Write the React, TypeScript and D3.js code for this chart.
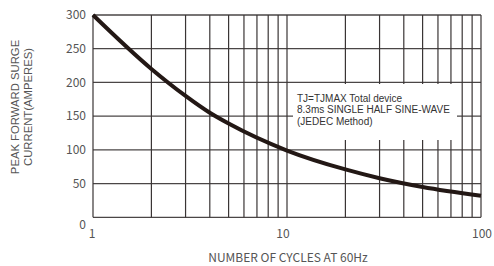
import React from "react";
import * as d3 from "d3";

const cycles = [1, 2, 3, 4, 5, 10, 20, 30, 50, 100];
const current = [300, 220, 180, 155, 139, 99, 71, 58, 45, 32];
const yTicks = [0, 50, 100, 150, 200, 250, 300];
const xLabelTicks = [1, 10, 100];
const xGrid = [1, 2, 3, 4, 5, 6, 7, 8, 9, 10, 20, 30, 40, 50, 60, 70, 80, 90, 100];
const noteLines = ["TJ=TJMAX Total device", "8.3ms SINGLE HALF SINE-WAVE", "(JEDEC Method)"];
const xTitle = "NUMBER OF CYCLES AT 60Hz";
const yTitle = ["PEAK FORWARD SURGE", "CURRENT(AMPERES)"];

export default function App() {
  const W = 494, H = 266;
  const x = d3.scaleLog().domain([1, 100]).range([93, 481]);
  const y = d3.scaleLinear().domain([0, 300]).range([217.3, 15]);
  const pts = cycles.map((c, i) => [c, current[i]] as [number, number]);
  const line = d3.line<[number, number]>().x(d => x(d[0])).y(d => y(d[1])).curve(d3.curveMonotoneX);
  const font = "'Noto Sans CJK SC', 'Noto Sans', sans-serif";
  const noteFont = "'Liberation Sans', Arial, sans-serif";
  return (
    <svg width={W} height={H} style={{ position: "absolute", left: 0, top: 0, background: "#fff" }}>
      {yTicks.map(t => (
        <line key={"h" + t} x1={x(1)} x2={x(100)} y1={y(t)} y2={y(t)} stroke="#4a4646" strokeWidth={1.3} />
      ))}
      {xGrid.map(t => (
        <line key={"v" + t} x1={x(t)} x2={x(t)} y1={y(0)} y2={y(300)} stroke="#3a3535" strokeWidth={1.2} />
      ))}
      <rect x={293} y={84} width={164} height={56} fill="#fff" />
      {noteLines.map((s, i) => (
        <text key={s} x={297} y={101.5 + i * 11.5} fontFamily={noteFont} fontSize={10} fill="#333">{s}</text>
      ))}
      <path d={line(pts) || ""} fill="none" stroke="#231815" strokeWidth={4} />
      {yTicks.map(t => (
        <text key={"yl" + t} x={86} y={y(t) + (t === 0 ? 7 : 0)} dy="0.35em" textAnchor="end" fontFamily={font} fontSize={12} fill="#555">{t}</text>
      ))}
      {xLabelTicks.map(t => (
        <text key={"xl" + t} x={x(t) + (t === 10 ? -4 : t === 1 ? -1 : 1)} y={238} textAnchor="middle" fontFamily={font} fontSize={12} fill="#555">{t}</text>
      ))}
      <text x={288} y={262} textAnchor="middle" fontFamily={font} fontSize={12} fill="#555">{xTitle}</text>
      <text transform="translate(19,107) rotate(-90)" textAnchor="middle" fontFamily="'Liberation Sans', Arial, sans-serif" fontSize={11.3} fill="#555">
        <tspan x={0} dy={0}>{yTitle[0]}</tspan>
        <tspan x={0} dy={12.5}>{yTitle[1]}</tspan>
      </text>
    </svg>
  );
}
